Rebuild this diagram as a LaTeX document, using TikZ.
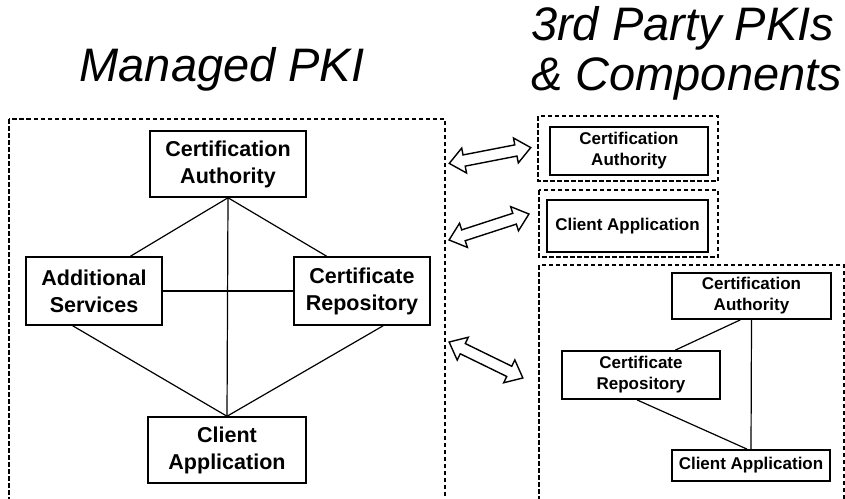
\documentclass[tikz,border=0pt]{standalone}
\usepackage{fontspec}
\setmainfont{Liberation Sans}
\usetikzlibrary{shapes.arrows,calc}
\begin{document}
\begin{tikzpicture}[x=1pt,y=-1pt,
  dashbox/.style={draw,line width=1.2pt,dash pattern=on 4.5pt off 2.5pt},
  bigbox/.style={draw,line width=1.5pt,rectangle,align=center,inner sep=0pt,font=\fontsize{21.5}{27}\selectfont\bfseries},
  smallbox/.style={draw,line width=1.8pt,rectangle,align=center,inner sep=0pt,font=\fontsize{17}{21}\selectfont\bfseries},
  conn/.style={draw,line width=1.2pt},
  dbl/.style={draw,line width=1.4pt,double arrow,fill=white,minimum width=25pt,inner sep=5pt,double arrow head extend=7pt,double arrow tip angle=80},
  title/.style={font=\fontsize{47}{52}\selectfont\itshape,align=left,inner sep=0pt}]
\useasboundingbox (0,0) rectangle (845,498);
\clip (0,0) rectangle (845,498);
\fill[white] (0,0) rectangle (845,498);

% titles
\node[title] (t1) at (222,69) {Managed PKI};
\node[title,anchor=north west] (t2) at (531,6) {3rd Party PKIs\\[-2pt]\& Components};

% left dashed container
\draw[dashbox] (9,119) rectangle (445,520);

\node[bigbox,minimum width=156pt,minimum height=66pt] (ca) at (228,164) {Certification\\Authority};
\node[bigbox,minimum width=136pt,minimum height=68pt] (as) at (94,291) {Additional\\Services};
\node[bigbox,minimum width=136pt,minimum height=68pt] (cr) at (362,291) {Certificate\\Repository};
\node[bigbox,minimum width=158pt,minimum height=66pt] (cl) at (227,450) {Client\\Application};

\draw[conn] (ca.south) -- ($(as.north west)!0.765!(as.north east)$);
\draw[conn] (ca.south) -- ($(cr.north west)!0.243!(cr.north east)$);
\draw[conn] (ca.south) -- (cl.north);
\draw[conn] (as.east) -- (cr.west);
\draw[conn] ($(as.south west)!0.345!(as.south east)$) -- (cl.north);
\draw[conn] ($(cr.south west)!0.654!(cr.south east)$) -- (cl.north);

% right containers
\draw[dashbox] (538,116) rectangle (718,181);
\node[smallbox,minimum width=158pt,minimum height=48pt] (rca) at (629,151) {Certification\\Authority};

\draw[dashbox] (539,190) rectangle (718,257);
\node[smallbox,minimum width=161pt,minimum height=52pt] (rcl) at (627.5,226) {Client Application};

\draw[dashbox] (539,265) rectangle (844,520);
\node[smallbox,minimum width=159pt,minimum height=46pt] (ca3) at (751.5,296) {Certification\\Authority};
\node[smallbox,minimum width=158pt,minimum height=48pt] (cr3) at (641,375) {Certificate\\Repository};
\node[smallbox,minimum width=158pt,minimum height=31pt] (cl3) at (751,465.5) {Client Application};

\draw[conn] (ca3.south) -- (cl3.north);
\draw[conn] ($(ca3.south west)!0.43!(ca3.south east)$) -- ($(cr3.north west)!0.715!(cr3.north east)$);
\draw[conn] ($(cr3.south west)!0.475!(cr3.south east)$) -- ($(cl3.north west)!0.475!(cl3.north east)$);

% double arrows
\node[dbl,minimum height=83pt,rotate=11] (a1) at (490,155.5) {};
\node[dbl,minimum height=84pt,rotate=18] (a2) at (489,227) {};
\node[dbl,minimum height=82pt,rotate=-26] (a3) at (486,360) {};
\end{tikzpicture}
\end{document}
